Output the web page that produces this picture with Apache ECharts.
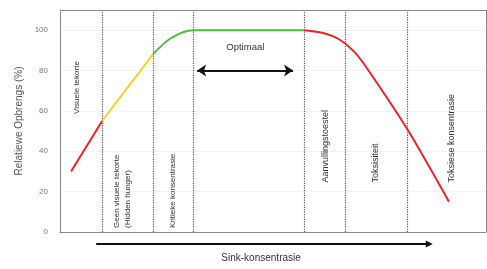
<!DOCTYPE html>
<html>
<head>
<meta charset="utf-8">
<script src="https://cdn.jsdelivr.net/npm/echarts@6/dist/echarts.min.js"></script>
<style>
  html, body { margin: 0; padding: 0; background: #fff; }
  #chart { width: 487px; height: 269px; }
</style>
</head>
<body>
<div id="chart"></div>
<script>
// response curve, split by colour (x: relative zinc level 0-100, y: relative yield %)
const redLow = [[2.6, 30], [9.9, 55]]
const yellowPart = [[9.9, 55], [16.4, 73], [21.8, 88]]
const greenPart = [[21.8, 88], [26.0, 96], [31.2, 100], [57.3, 100]]
const redHigh = [[57.3, 100], [62.0, 98.5], [65.5, 95.5], [69.0, 89.5], [72.1, 81], [81.5, 51], [91.3, 15]]

// zone boundaries (dotted verticals)
const zoneLines = [9.9, 21.8, 31.2, 57.3, 66.9, 81.5]
const yTicks = [0, 20, 40, 60, 80, 100]

// zone labels: x, y (bottom of rotated text), text, size
const zoneLabels = [
  { x: 3.9, y: 58.5, text: 'Visuele tekorte', size: 8 },
  { x: 14.6, y: 2, text: 'Geen visuele tekorte\n(Hidden hunger)', size: 8 },
  { x: 26.5, y: 2, text: 'Kritieke konsentrasie', size: 8 },
  { x: 62.3, y: 24.5, text: 'Aanvullingstoestel', size: 9 },
  { x: 74.0, y: 24.5, text: 'Toksisiteit', size: 9 },
  { x: 92.0, y: 24.5, text: 'Toksiese konsentrasie', size: 9 }
]

const chart = echarts.init(document.getElementById('chart'), null, { renderer: 'canvas' })

function seg(data, color, smooth) {
  return {
    type: 'line', data, smooth, symbol: 'none',
    lineStyle: { color, width: 2 }, z: 5
  }
}

const option = {
  animation: false,
  grid: { left: 60, right: 1, top: 10, bottom: 37 },
  xAxis: {
    type: 'value', min: 0, max: 100,
    axisLine: { show: true, lineStyle: { color: '#888' } },
    axisTick: { show: false }, axisLabel: { show: false },
    splitLine: { show: false }
  },
  yAxis: {
    type: 'value', min: 0, max: 110, interval: 20,
    name: 'Relatiewe Opbrengs (%)', nameLocation: 'middle', nameGap: 36,
    nameTextStyle: { color: '#555', fontSize: 10, fontFamily: 'Liberation Sans' },
    axisLine: { show: true, lineStyle: { color: '#888' } },
    axisTick: { show: false },
    axisLabel: {
      color: '#777', fontSize: 8, fontFamily: 'Liberation Sans', margin: 12,
      formatter: v => (yTicks.indexOf(v) >= 0 ? v : '')
    },
    splitLine: { show: true, lineStyle: { color: '#f3f3f3' } }
  },
  series: [
    seg(redLow, '#e4252c', false),
    seg(yellowPart, '#f2d22a', 0.3),
    seg(greenPart, '#4cbe3c', 0.3),
    seg(redHigh, '#e4252c', 0.3),
    {
      type: 'line', data: [], silent: true,
      markLine: {
        silent: true, symbol: 'none', label: { show: false },
        lineStyle: { color: '#555', type: 'dotted', width: 1.2 },
        data: zoneLines.map(x => ({ xAxis: x }))
      }
    },
    {
      type: 'line', data: [], silent: true,
      markLine: {
        silent: true, label: { show: false }, symbolSize: [9, 9],
        lineStyle: { color: '#111', type: 'solid', width: 2 },
        data: [
          [{ coord: [32.2, 80], symbol: 'arrow' }, { coord: [54.7, 80], symbol: 'arrow' }]
        ]
      }
    },
    {
      // top and right frame lines
      type: 'line', data: [], silent: true,
      markLine: {
        silent: true, symbol: 'none', label: { show: false },
        lineStyle: { color: '#888', type: 'solid', width: 1 },
        data: [{ yAxis: 110 }, { xAxis: 100 }]
      }
    }
  ]
}
chart.setOption(option)

const px = (x, y) => chart.convertToPixel({ gridIndex: 0 }, [x, y])

const gfx = zoneLabels.map(l => {
  const p = px(l.x, l.y)
  return {
    type: 'text', x: p[0], y: p[1], rotation: Math.PI / 2,
    style: {
      text: l.text, fill: '#333', fontSize: l.size, fontFamily: 'Liberation Sans',
      align: 'left', verticalAlign: 'middle', lineHeight: 11
    }
  }
})
const opt = px(43.5, 91.5)
gfx.push({
  type: 'text', x: opt[0], y: opt[1],
  style: { text: 'Optimaal', fill: '#333', fontSize: 9.5, fontFamily: 'Liberation Sans', align: 'center', verticalAlign: 'middle' }
})
// concentration arrow below the axis
const a0 = px(8.5, -6)
const a1 = px(87.5, -6)
gfx.push({
  type: 'line', shape: { x1: a0[0], y1: a0[1], x2: a1[0] - 4, y2: a1[1] },
  style: { stroke: '#111', lineWidth: 2 }
})
gfx.push({
  type: 'polygon',
  shape: { points: [[a1[0], a1[1]], [a1[0] - 7, a1[1] - 3.5], [a1[0] - 7, a1[1] + 3.5]] },
  style: { fill: '#111' }
})
const sk = px(47.2, -13)
gfx.push({
  type: 'text', x: sk[0], y: sk[1],
  style: { text: 'Sink-konsentrasie', fill: '#333', fontSize: 10, fontFamily: 'Liberation Sans', align: 'center', verticalAlign: 'middle' }
})
chart.setOption({ graphic: gfx })
</script>
</body>
</html>
